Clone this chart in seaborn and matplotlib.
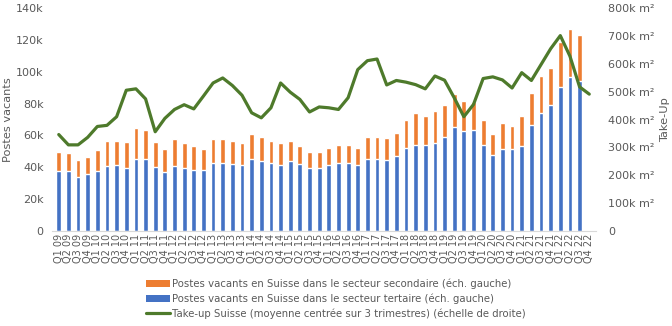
import numpy as np
import pandas as pd
import matplotlib
matplotlib.use("Agg")
import matplotlib.pyplot as plt
import seaborn as sns
from matplotlib.patches import Patch
from matplotlib.lines import Line2D
from matplotlib.ticker import FuncFormatter

quarters = [f"Q{q} {y:02d}" for y in range(9, 23) for q in range(1, 5)]

# vacancies, thousands (left axis) – Q1 09 .. Q3 22
tertiaire = [37.6, 37.6, 33.8, 35.5, 37.6, 40.5, 41.4, 39.3, 44.9, 44.9,
             40.1, 36.8, 40.5, 39.3, 38.0, 38.0, 42.6, 43.0, 41.8, 41.4,
             44.9, 43.7, 43.0, 41.4, 43.7, 41.8, 39.3, 39.3, 41.4, 42.6,
             43.0, 41.4, 45.5, 45.5, 44.3, 46.8, 51.8, 53.9, 53.9, 55.2,
             58.9, 65.2, 62.7, 63.1, 53.9, 47.6, 51.4, 51.4, 53.3, 66.4,
             73.8, 79.0, 90.7, 96.5, 94.0]
total = [49.3, 48.7, 44.3, 46.2, 50.6, 56.2, 56.8, 55.6, 64.4, 63.7,
         55.6, 51.2, 57.5, 55.0, 53.1, 51.2, 57.5, 57.5, 56.8, 55.0,
         61.2, 59.3, 56.8, 55.0, 56.8, 53.1, 49.3, 49.3, 52.3, 53.7,
         54.3, 52.2, 59.3, 59.3, 58.1, 61.8, 70.0, 73.8, 72.5, 75.6,
         78.8, 86.3, 81.9, 81.3, 69.4, 61.2, 67.5, 66.2, 71.9, 86.9,
         97.6, 102.6, 118.9, 127.0, 123.3]
secondaire = [round(t - s, 1) for t, s in zip(total, tertiaire)]

# take-up, thousands m² (right axis) – Q1 09 .. Q4 22
takeup = [346, 309, 309, 336, 375, 379, 410, 505, 510, 474,
          356, 404, 436, 453, 438, 484, 531, 549, 522, 487,
          424, 406, 442, 531, 498, 472, 427, 445, 442, 436,
          478, 579, 611, 617, 524, 540, 534, 525, 510, 556,
          541, 478, 410, 454, 547, 553, 542, 513, 568, 540,
          597, 654, 701, 627, 517, 491]

n = len(quarters)
pad = [np.nan] * (n - len(tertiaire))
df = pd.DataFrame({
    "quarter": quarters,
    "tertiaire": np.array(tertiaire + pad) * 1000,
    "total": (np.array(tertiaire + pad) + np.array(secondaire + pad)) * 1000,
    "takeup": np.array(takeup, dtype=float) * 1000,
    "pos": np.arange(n),
})

ORANGE = "#ED7D31"
BLUE = "#4472C4"
GREEN = "#4E7A2B"
GREY = "#595959"

sns.set_theme(style="white")
plt.rcParams["font.family"] = ["DejaVu Sans"]

W, H = 672, 326
L, R, B, T = 52, 596, 231, 8
fig = plt.figure(figsize=(W / 100, H / 100), dpi=100)
ax = fig.add_axes([L / W, 1 - B / H, (R - L) / W, (B - T) / H])

sns.barplot(data=df, x="quarter", y="total", order=quarters, color=ORANGE,
            width=0.5, ax=ax, saturation=1, errorbar=None)
sns.barplot(data=df, x="quarter", y="tertiaire", order=quarters, color=BLUE,
            width=0.5, ax=ax, saturation=1, errorbar=None)

ax.set_ylim(0, 140000)
ax.set_yticks(np.arange(0, 140001, 20000))
ax.yaxis.set_major_formatter(FuncFormatter(lambda v, p: "0" if v == 0 else f"{int(v/1000)}k"))
ax.set_xlim(-0.7, n - 0.3)
ax.set_xlabel("")
ax.set_ylabel("Postes vacants", color=GREY, fontsize=8.2)
ax.yaxis.set_label_coords(-(L - 13) / (R - L), 0.5)
ax.tick_params(axis="y", colors=GREY, labelsize=8, length=0, pad=6)
ax.tick_params(axis="x", colors=GREY, labelsize=7, length=0, pad=2, labelrotation=90)
for lab in ax.get_xticklabels():
    lab.set_color(GREY)

for s in ["top", "right", "left"]:
    ax.spines[s].set_visible(False)
ax.spines["bottom"].set_color("#D9D9D9")
ax.spines["bottom"].set_linewidth(0.8)

ax2 = ax.twinx()
sns.lineplot(data=df, x="pos", y="takeup", color=GREEN, linewidth=2.3, ax=ax2)
ax2.set_ylim(0, 800000)
ax2.set_yticks(np.arange(0, 800001, 100000))
ax2.yaxis.set_major_formatter(FuncFormatter(lambda v, p: "0" if v == 0 else f"{int(v/1000)}k m²"))
ax2.set_xlim(-0.7, n - 0.3)
ax2.set_xlabel("")
ax2.set_ylabel("Take-Up", color=GREY, fontsize=8.2)
ax2.yaxis.set_label_coords((660 - L) / (R - L), 0.5)
ax2.tick_params(axis="y", colors=GREY, labelsize=8, length=0, pad=9)
for s in ["top", "right", "left", "bottom"]:
    ax2.spines[s].set_visible(False)

handles = [
    Patch(facecolor=ORANGE, edgecolor="none"),
    Patch(facecolor=BLUE, edgecolor="none"),
    Line2D([0], [0], color=GREEN, linewidth=2.3),
]
labels = [
    "Postes vacants en Suisse dans le secteur secondaire (éch. gauche)",
    "Postes vacants en Suisse dans le secteur tertaire (éch. gauche)",
    "Take-up Suisse (moyenne centrée sur 3 trimestres) (échelle de droite)",
]
fig.legend(handles, labels, loc="upper center", bbox_to_anchor=(0.5, 0.162),
           frameon=False, fontsize=7.3, labelcolor=GREY, handlelength=2.4,
           handleheight=0.7, handletextpad=0.2, labelspacing=0.45, borderpad=0)

fig.savefig("out.png", dpi=100)
